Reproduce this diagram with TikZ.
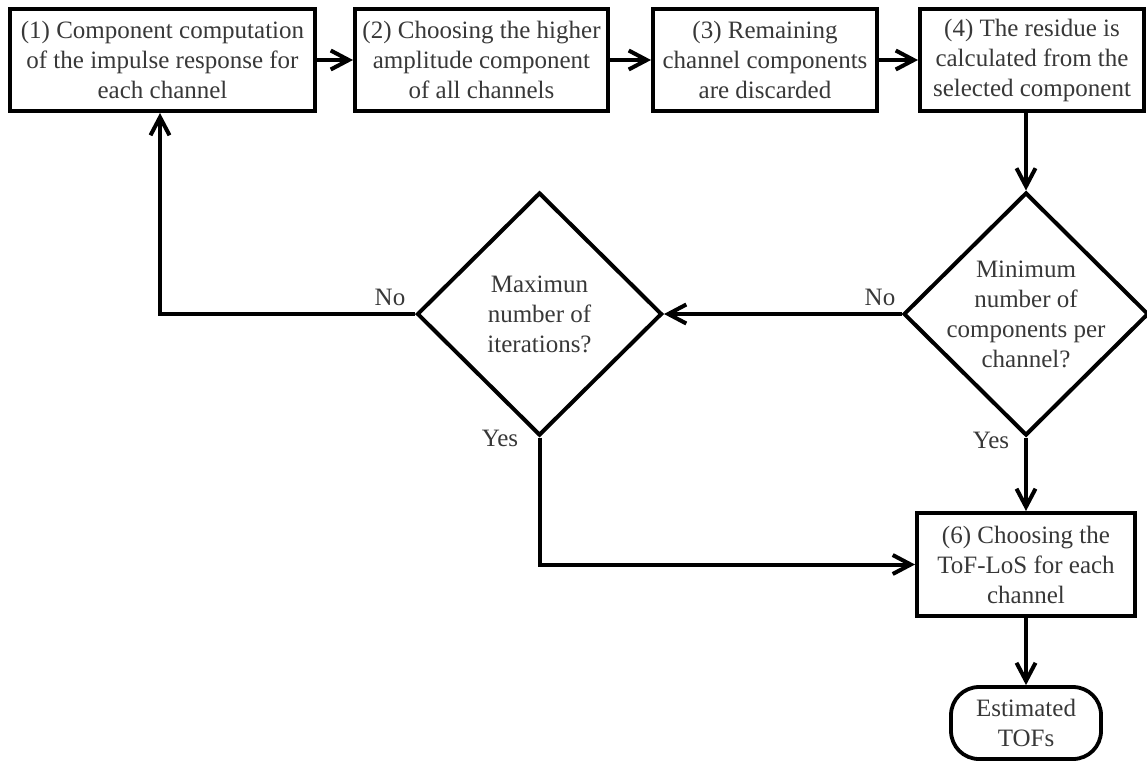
\documentclass[tikz,border=0pt]{standalone}
\usepackage{fontspec}
\setmainfont{Liberation Serif}
\usetikzlibrary{arrows.meta,shapes.geometric}
\definecolor{txt}{HTML}{383838}
\begin{document}
\begin{tikzpicture}[x=1pt,y=-1pt,
  every node/.style={font=\fontsize{25}{30}\selectfont, text=txt},
  stepbox/.style={draw=black, line width=4pt, align=center, inner sep=0pt, minimum height=102pt},
  decision/.style={draw=black, line width=4pt, shape=diamond, inner sep=0pt,
                   minimum width=245pt, minimum height=243pt},
  dtext/.style={align=center, inner sep=0pt},
  terminal/.style={draw=black, line width=3.8pt, rounded corners=28pt, align=center,
                   minimum width=150pt, minimum height=72pt, inner sep=0pt},
  flow/.style={draw=black, line width=4pt, -{Straight Barb[length=18pt,width=19pt]}},
  lbl/.style={inner sep=0pt}
]
\useasboundingbox (0,0) rectangle (1147,761);

% process steps along the top row
\node[stepbox, minimum width=305pt] (s1) at (162.5,60)
  {(1) Component computation\\of the impulse response for\\each channel};
\node[stepbox, minimum width=253pt] (s2) at (481.5,60)
  {(2) Choosing the higher\\amplitude component\\of all channels};
\node[stepbox, minimum width=224pt] (s3) at (765,60)
  {(3) Remaining\\channel components\\are discarded};
\node[stepbox, minimum width=224pt] (s4) at (1032,60)
  {(4) The residue is\\calculated from the\\selected component};

% decisions
\node[decision, label={[dtext]center:{Minimum\\number of\\components per\\channel?}}] (rd) at (1026,314) {};
\node[decision, label={[dtext]center:{Maximun\\number of\\iterations?}}] (ld) at (539.5,314) {};

% final step and terminal
\node[stepbox, minimum width=218pt, minimum height=103pt] (s6) at (1026,564.5)
  {(6) Choosing the\\ToF-LoS for each\\channel};
\node[terminal] (tof) at (1026,723) {Estimated\\TOFs};

% branch labels
\node[lbl] (no1) at (390,297) {No};
\node[lbl] (no2) at (880,297) {No};
\node[lbl] (yes1) at (500,438) {Yes};
\node[lbl] (yes2) at (991,440) {Yes};

% connectors
\coordinate (loop) at (160,314);
\draw[flow] (s1) -- (s2);
\draw[flow] (s2) -- (s3);
\draw[flow] (s3) -- (s4);
\draw[flow] (s4.south -| rd.north) -- (rd.north);
\draw[flow] (rd.west) -- (ld.east);
\draw[flow] (ld.west) -- (loop) -- (loop |- s1.south);
\draw[flow] (ld.south) |- (s6.west);
\draw[flow] (rd.south) -- (s6.north);
\draw[flow] (s6.south) -- (tof.north);
\end{tikzpicture}
\end{document}
